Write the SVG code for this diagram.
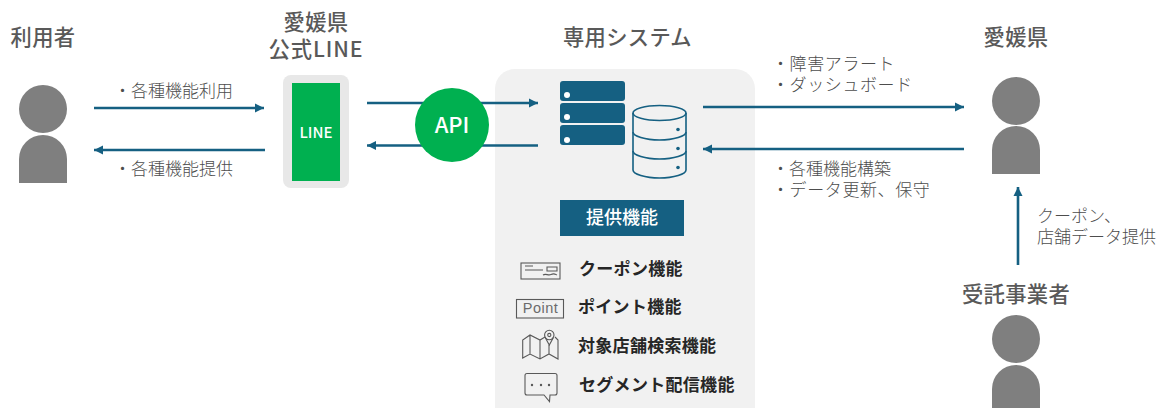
<svg xmlns="http://www.w3.org/2000/svg" width="1158" height="408" viewBox="0 0 1158 408">
<style>
text{font-family:"Noto Sans CJK JP","Noto Sans",sans-serif}
.title{font-size:21.300px;font-weight:500;fill:#595959;text-anchor:middle;letter-spacing:.3px}
.lab{font-size:17px;font-weight:300;fill:#4d4d4d}
.kana{letter-spacing:.6px}
.feat{font-size:17px;font-weight:700;fill:#262626;letter-spacing:.3px}
.conn{stroke:#156082;stroke-width:2.6;fill:none}
.person{fill:#7f7f7f}
.ic{fill:none;stroke:#595959;stroke-width:1.1}
</style>
<defs>
<marker id="ah" markerUnits="userSpaceOnUse" markerWidth="10" markerHeight="10" refX="9" refY="5" orient="auto-start-reverse"><path d="M0 0.5L9 5L0 9.500Z" fill="#156082"/></marker>
<path id="body" d="M-24 48V24A24 24 0 0 1 24 24V48Z"/>
</defs>
<rect width="1158" height="408" fill="#fff"/>
<g id="panel"><rect x="495" y="69" width="260" height="360" rx="20" fill="#f1f1f1"/></g>
<g id="connectors">
<path class="conn" marker-end="url(#ah)" d="M94 108H264"/>
<path class="conn" marker-end="url(#ah)" d="M265 150H94"/>
<path class="conn" marker-end="url(#ah)" d="M367 103H538"/>
<path class="conn" marker-end="url(#ah)" d="M538 145.500H367"/>
<path class="conn" marker-end="url(#ah)" d="M703 107H964"/>
<path class="conn" marker-end="url(#ah)" d="M964 149H703"/>
<path class="conn" marker-end="url(#ah)" d="M1018 265V187"/>
</g>
<g id="user">
<text class="title" x="43" y="45">利用者</text>
<circle class="person" cx="43" cy="109" r="24"/>
<use class="person" href="#body" x="43" y="135"/>
</g>
<g id="line">
<text class="title" x="316" y="30">愛媛県</text>
<text class="title" x="316" y="57" style="letter-spacing:.9px">公式LINE</text>
<rect x="283" y="75" width="66" height="113" rx="8" fill="#e8e8e8"/>
<rect x="292" y="83" width="48" height="98" fill="#00b050"/>
<text x="316" y="137.500" font-size="15" font-weight="500" fill="#fff" text-anchor="middle">LINE</text>
</g>
<g id="api">
<circle cx="452" cy="125" r="37" fill="#00b050"/>
<text x="452" y="132.500" font-size="22" font-weight="500" fill="#fff" text-anchor="middle">API</text>
</g>
<g id="system">
<text class="title" x="627.500" y="45">専用システム</text>
<g fill="#156082">
<rect x="560" y="81" width="65" height="20" rx="3"/>
<rect x="560" y="103" width="65" height="20" rx="3"/>
<rect x="560" y="125" width="65" height="20" rx="3"/>
</g>
<g fill="#fff">
<circle cx="567" cy="95" r="3"/><circle cx="567" cy="117" r="3"/><circle cx="567" cy="140" r="3"/>
</g>
<g fill="none" stroke="#156082" stroke-width="1.600">
<ellipse cx="659.500" cy="113" rx="26.500" ry="7.500"/>
<path d="M633 113V170C633 174 645 178 659.500 178S686 174 686 170V113"/>
<path d="M633 132C633 136 645 140 659.500 140S686 136 686 132"/>
<path d="M633 151C633 155 645 159 659.500 159S686 155 686 151"/>
</g>
<g fill="#156082"><circle cx="678" cy="129.500" r="1.800"/><circle cx="678" cy="148.500" r="1.800"/><circle cx="678" cy="167.500" r="1.800"/></g>
<rect x="560" y="200" width="124" height="36" fill="#156082"/>
<text x="622" y="224" font-size="18" font-weight="500" fill="#fff" text-anchor="middle">提供機能</text>
</g>
<g id="coupon">
<rect class="ic" x="521" y="263" width="39" height="16"/>
<path class="ic" d="M525 266H533M525 270H543M547 267H557V271H547ZM543 275C546 273 548 276 551 274.500S555 274 557 275"/>
<text class="feat" x="579" y="275">クーポン機能</text>
</g>
<g id="point">
<rect class="ic" x="516.500" y="299.500" width="47" height="18.500"/>
<text x="540.500" y="313" font-size="14.500" fill="#6b6b6b" text-anchor="middle" letter-spacing=".5" style="font-family:'Liberation Sans',sans-serif">Point</text>
<text class="feat" x="578" y="313">ポイント機能</text>
</g>
<g id="map">
<path class="ic" d="M545 337L540 340L530 335L522.700 340V358L530 354L540 359L549 354L558 359V340L555 337M530 335V354M540 340V359M549 345V354"/>
<circle class="ic" cx="549.300" cy="335" r="4.700"/>
<circle class="ic" cx="549.300" cy="335" r="1.600"/>
<path class="ic" d="M545.200 337.500L549.300 345L553.400 337.500"/>
<text class="feat" x="578" y="352">対象店舗検索機能</text>
</g>
<g id="segment">
<path class="ic" d="M527 373.500H555Q557 373.500 557 375.500V393Q557 395 555 395H550L549.500 401.500L544 395H527Q525 395 525 393V375.500Q525 373.500 527 373.500Z"/>
<g fill="#595959"><circle cx="532" cy="385" r="1.200"/><circle cx="541" cy="385" r="1.200"/><circle cx="549" cy="385" r="1.200"/></g>
<text class="feat" x="579" y="391">セグメント配信機能</text>
</g>
<g id="ehime">
<text class="title" x="1016" y="45">愛媛県</text>
<circle class="person" cx="1016" cy="101" r="24"/>
<use class="person" href="#body" x="1016" y="126"/>
</g>
<g id="contractor">
<text class="title" x="1016" y="302">受託事業者</text>
<circle class="person" cx="1016" cy="339" r="24"/>
<use class="person" href="#body" x="1016" y="365"/>
</g>
<g id="labels">
<text class="lab" x="114" y="97">・各種機能利用</text>
<text class="lab" x="114" y="175">・各種機能提供</text>
<text class="lab kana" x="772" y="69.500">・障害アラート</text>
<text class="lab kana" x="772" y="90.500">・ダッシュボード</text>
<text class="lab" x="772" y="175">・各種機能構築</text>
<text class="lab kana" x="772" y="196">・データ更新、保守</text>
<text class="lab" x="1037" y="222">クーポン、</text>
<text class="lab" x="1037" y="243">店舗データ提供</text>
</g>
</svg>
